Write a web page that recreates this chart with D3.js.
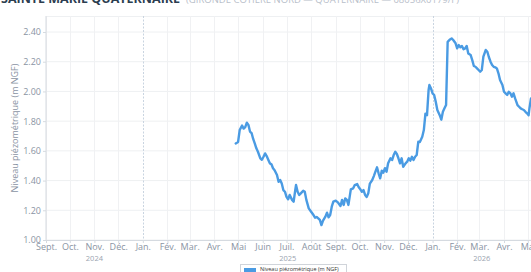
<!DOCTYPE html>
<html>
<head>
<meta charset="utf-8">
<script src="https://cdn.jsdelivr.net/npm/d3@7"></script>
<style>
  html, body { margin: 0; padding: 0; background: #fff; overflow: hidden; }
  svg { display: block; font-family: "Open Sans", "DejaVu Sans", sans-serif; }
</style>
</head>
<body>
<div id="chart"></div>
<script>
// piezometric level readings (date, m NGF)
const dates = [
  "2025-04-28","2025-05-01","2025-05-03","2025-05-06","2025-05-08","2025-05-10","2025-05-12","2025-05-14",
  "2025-05-16","2025-05-18","2025-05-20","2025-05-22","2025-05-24","2025-05-26","2025-05-29","2025-05-31",
  "2025-06-02","2025-06-04","2025-06-06","2025-06-08","2025-06-10","2025-06-12","2025-06-14","2025-06-16",
  "2025-06-19","2025-06-21","2025-06-23","2025-06-25","2025-06-27","2025-06-29","2025-07-01","2025-07-03",
  "2025-07-05","2025-07-08","2025-07-10","2025-07-12","2025-07-13","2025-07-15","2025-07-17","2025-07-19",
  "2025-07-22","2025-07-24","2025-07-26","2025-07-29","2025-08-01","2025-08-04","2025-08-06","2025-08-08",
  "2025-08-10","2025-08-12","2025-08-14","2025-08-16","2025-08-19","2025-08-21","2025-08-23","2025-08-25",
  "2025-08-27","2025-08-29","2025-09-01","2025-09-04","2025-09-07","2025-09-09","2025-09-11","2025-09-13",
  "2025-09-15","2025-09-17","2025-09-20","2025-09-23","2025-09-25","2025-09-28","2025-09-30","2025-10-02",
  "2025-10-04","2025-10-06","2025-10-08","2025-10-10","2025-10-12","2025-10-14","2025-10-17","2025-10-19",
  "2025-10-21","2025-10-23","2025-10-25","2025-10-27","2025-10-29","2025-10-31","2025-11-02","2025-11-04",
  "2025-11-06","2025-11-09","2025-11-11","2025-11-13","2025-11-15","2025-11-17","2025-11-19","2025-11-21",
  "2025-11-23","2025-11-25","2025-11-28","2025-11-30","2025-12-02","2025-12-04","2025-12-06","2025-12-08",
  "2025-12-10","2025-12-12","2025-12-14","2025-12-16","2025-12-19","2025-12-21","2025-12-23","2025-12-25",
  "2025-12-27","2025-12-28","2025-12-30","2026-01-01","2026-01-03","2026-01-05","2026-01-07","2026-01-10",
  "2026-01-12","2026-01-14","2026-01-16","2026-01-18","2026-01-20","2026-01-23","2026-01-25","2026-01-27",
  "2026-01-30","2026-02-01","2026-02-03","2026-02-05","2026-02-07","2026-02-09","2026-02-11","2026-02-13",
  "2026-02-15","2026-02-18","2026-02-20","2026-02-22","2026-02-24","2026-02-26","2026-02-28","2026-03-02",
  "2026-03-04","2026-03-06","2026-03-09","2026-03-11","2026-03-13","2026-03-15","2026-03-17","2026-03-19",
  "2026-03-21","2026-03-23","2026-03-25","2026-03-27","2026-03-30","2026-04-01","2026-04-03","2026-04-05",
  "2026-04-07","2026-04-09","2026-04-11","2026-04-13","2026-04-15","2026-04-18","2026-04-20","2026-04-22",
  "2026-04-24","2026-04-26","2026-04-28","2026-04-30","2026-05-02","2026-05-03","2026-05-05"
];
const levels = [
  1.65,1.66,1.74,1.77,1.75,1.76,1.79,1.775,
  1.73,1.72,1.68,1.65,1.617,1.594,1.55,1.54,
  1.56,1.583,1.565,1.54,1.516,1.51,1.483,1.47,
  1.437,1.392,1.404,1.38,1.336,1.325,1.29,1.274,
  1.303,1.27,1.258,1.336,1.37,1.325,1.303,1.314,
  1.332,1.325,1.27,1.213,1.19,1.168,1.15,1.155,
  1.146,1.135,1.10,1.13,1.157,1.184,1.153,1.168,
  1.224,1.258,1.265,1.251,1.229,1.27,1.236,1.28,
  1.27,1.236,1.341,1.348,1.37,1.377,1.355,1.341,
  1.325,1.336,1.303,1.29,1.314,1.38,1.404,1.43,
  1.46,1.489,1.449,1.415,1.466,1.453,1.483,1.46,
  1.516,1.55,1.538,1.572,1.594,1.579,1.55,1.516,
  1.55,1.493,1.516,1.527,1.55,1.534,1.56,1.538,
  1.56,1.572,1.661,1.66,1.695,1.74,1.85,1.84,
  2.01,2.043,2.02,1.987,1.976,1.93,1.875,1.84,
  1.81,1.863,1.886,1.908,2.334,2.35,2.357,2.346,
  2.324,2.29,2.312,2.297,2.306,2.284,2.29,2.306,
  2.256,2.245,2.211,2.171,2.166,2.155,2.144,2.133,
  2.144,2.234,2.279,2.267,2.23,2.2,2.178,2.166,
  2.162,2.155,2.122,2.077,2.043,1.998,1.987,1.976,
  1.998,1.987,1.964,1.987,1.953,1.908,1.897,1.886,
  1.88,1.875,1.863,1.853,1.84,1.886,1.953
];
const yTicks = [1.0, 1.2, 1.4, 1.6, 1.8, 2.0, 2.2, 2.4];
const monthNames = ["Jan.","Fév.","Mar.","Avr.","Mai","Juin","Juil.","Août","Sept.","Oct.","Nov.","Déc."];
const xStart = "2024-09-01";
const xEnd = "2026-05-05";
const seriesName = "Niveau piézométrique (m NGF)";
const stationName = "SAINTE MARIE QUATERNAIRE";
const stationInfo = "(GIRONDE CÔTIÈRE NORD — QUATERNAIRE — 08056X0179/F)";

const W = 531, H = 272;
const M = { top: 16, right: 0, bottom: 32, left: 46 };
const parse = d3.utcParse("%Y-%m-%d");
const data = dates.map((d, i) => ({ date: parse(d), v: levels[i] }));

const svg = d3.select("#chart").append("svg").attr("width", W).attr("height", H);

const x = d3.scaleUtc().domain([parse(xStart), parse(xEnd)]).range([M.left, W - M.right]);
const y = d3.scaleLinear().domain([1.0, 2.4]).range([240, 32]);
const plotTop = M.top, plotBottom = H - M.bottom;

// grid
const months = d3.utcMonth.range(parse(xStart), parse(xEnd));
svg.append("g").selectAll("line").data(yTicks).join("line")
  .attr("x1", M.left).attr("x2", W).attr("y1", d => y(d)).attr("y2", d => y(d))
  .attr("stroke", "#eef0f2").attr("stroke-width", 1);
svg.append("line").attr("x1", M.left).attr("x2", W).attr("y1", plotTop + 0.5).attr("y2", plotTop + 0.5)
  .attr("stroke", "#eef0f2");
svg.append("g").selectAll("line").data(months.filter(d => d.getUTCMonth() !== 0)).join("line")
  .attr("x1", d => Math.round(x(d)) + 0.5).attr("x2", d => Math.round(x(d)) + 0.5)
  .attr("y1", plotTop).attr("y2", plotBottom)
  .attr("stroke", "#f0f1f3");
svg.append("g").selectAll("line").data(months.filter(d => d.getUTCMonth() === 0)).join("line")
  .attr("x1", d => Math.round(x(d)) + 0.5).attr("x2", d => Math.round(x(d)) + 0.5)
  .attr("y1", plotTop).attr("y2", plotBottom)
  .attr("stroke", "#c9d4e0").attr("stroke-dasharray", "2,1.5");

// X AXIS
const xAxis = svg.append("g").attr("transform", `translate(0,${plotBottom})`)
  .call(d3.axisBottom(x).tickValues(months).tickSize(3).tickPadding(1)
    .tickFormat(d => monthNames[d.getUTCMonth()]));
xAxis.select(".domain").attr("stroke", "#d5dae0");
xAxis.selectAll(".tick line").attr("stroke", "#d5dae0");
xAxis.selectAll("text").attr("fill", "#8a94a3").attr("font-size", 9)
  .attr("font-family", "Open Sans, sans-serif");

// year labels centred on visible span
const years = [2024, 2025, 2026];
svg.append("g").selectAll("text").data(years).join("text")
  .attr("x", yr => {
    const a = Math.max(x.range()[0], x(Date.UTC(yr, 0, 1)));
    const b = Math.min(x.range()[1], x(Date.UTC(yr + 1, 0, 1)));
    return (a + b) / 2;
  })
  .attr("y", 261).attr("text-anchor", "middle")
  .attr("font-size", 7.5).attr("fill", "#9aa3b0").text(d => d);

// Y AXIS
const yAxis = svg.append("g").attr("transform", `translate(${M.left},0)`)
  .call(d3.axisLeft(y).tickValues(yTicks).tickSize(3).tickPadding(2).tickFormat(d3.format(".2f")));
yAxis.select(".domain").attr("stroke", "#d5dae0").attr("d", `M0,${plotTop}V${plotBottom}`);
yAxis.selectAll(".tick line").attr("stroke", "#d5dae0");
yAxis.selectAll("text").attr("fill", "#8a94a3").attr("font-size", 9)
  .attr("font-family", "Open Sans, sans-serif");

svg.append("text")
  .attr("transform", `translate(18,${(plotTop + plotBottom) / 2}) rotate(-90)`)
  .attr("text-anchor", "middle").attr("font-size", 9).attr("fill", "#8a94a3")
  .text(seriesName);

// line
const clipId = "plot-clip";
svg.append("clipPath").attr("id", clipId).append("rect")
  .attr("x", M.left).attr("y", plotTop).attr("width", W - M.left).attr("height", plotBottom - plotTop);
svg.append("path").datum(data)
  .attr("clip-path", `url(#${clipId})`)
  .attr("fill", "none").attr("stroke", "#4a9be3").attr("stroke-width", 2.4)
  .attr("stroke-linejoin", "round").attr("stroke-linecap", "round")
  .attr("d", d3.line().x(d => x(d.date)).y(d => y(d.v)));

// title (cut off at top)
const title = svg.append("text").attr("x", 1).attr("y", 3);
title.append("tspan").attr("font-weight", "bold").attr("font-size", 12.5).attr("fill", "#2c3e50").text(stationName);
title.append("tspan").attr("dx", 6).attr("font-size", 9.5).attr("fill", "#b9c0ca").text(stationInfo);

// legend
const lg = svg.append("g").attr("transform", "translate(240,264)");
lg.append("rect").attr("x", 0.5).attr("y", 0.5).attr("width", 106).attr("height", 12)
  .attr("fill", "#fff").attr("stroke", "#d0d4da");
lg.append("rect").attr("x", 4).attr("y", 4).attr("width", 12).attr("height", 6).attr("fill", "#4a9be3");
lg.append("text").attr("x", 20).attr("y", 7).attr("font-size", 5.5).attr("fill", "#333").text(seriesName);
</script>
</body>
</html>
